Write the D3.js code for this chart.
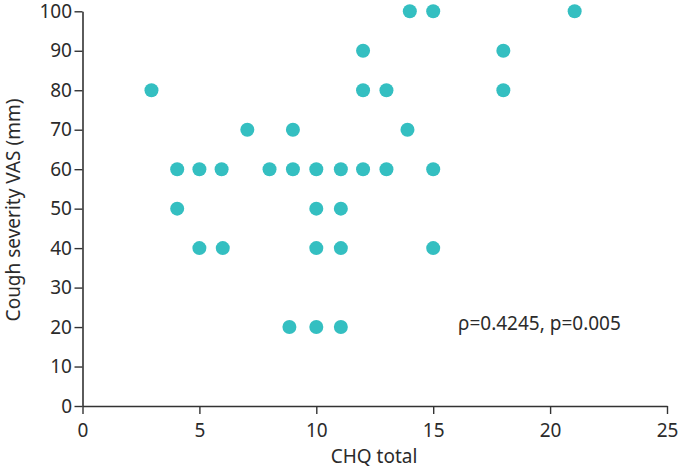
<!DOCTYPE html>
<html>
<head>
<meta charset="utf-8">
<script src="https://cdn.jsdelivr.net/npm/d3@7"></script>
<style>
  html, body { margin: 0; padding: 0; background: #fff; }
  svg text { font-family: "Noto Sans", "Open Sans", sans-serif; fill: #2b2b2b; }
</style>
</head>
<body>
<svg id="chart" width="686" height="470"></svg>
<script>
// CHQ total (x) and Cough severity VAS in mm (y)
const chqTotal = [14, 15, 21.05, 12, 18, 2.95, 12, 13, 18, 7.05, 9, 13.9,
                  4.05, 5, 5.95, 8, 9, 10, 11.05, 12, 13, 15,
                  4.05, 10, 11.05, 5, 6, 10, 11.05, 15, 8.85, 10, 11.05];
const coughVAS = [100, 100, 100, 90, 90, 80, 80, 80, 80, 70, 70, 70,
                  60, 60, 60, 60, 60, 60, 60, 60, 60, 60,
                  50, 50, 50, 40, 40, 40, 40, 40, 20, 20, 20];
const xTicks = [0, 5, 10, 15, 20, 25];
const yTicks = [0, 10, 20, 30, 40, 50, 60, 70, 80, 90, 100];
const xLabel = "CHQ total";
const yLabel = "Cough severity VAS (mm)";
const annotation = "\u03c1=0.4245, p=0.005";

const svg = d3.select("#chart");
const m = { left: 82.5, right: 686 - 667, top: 11.3, bottom: 470 - 406 };
const W = 686, H = 470;
const x = d3.scaleLinear().domain([0, 25]).range([m.left, W - m.right]);
const y = d3.scaleLinear().domain([0, 100]).range([H - m.bottom, m.top]);

const axisColor = "#333";
const fs = 19;

const gx = svg.append("g").attr("transform", `translate(0,${y(0)})`)
  .call(d3.axisBottom(x).tickValues(xTicks).tickFormat(d3.format("d")).tickSize(8).tickSizeOuter(0).tickPadding(9.5));
const gy = svg.append("g").attr("transform", `translate(${x(0)},0)`)
  .call(d3.axisLeft(y).tickValues(yTicks).tickFormat(d3.format("d")).tickSize(8).tickSizeOuter(0).tickPadding(2.5));
[gx, gy].forEach(g => {
  g.select(".domain").attr("stroke", axisColor).attr("stroke-width", 1.6);
  g.selectAll(".tick line").attr("stroke", axisColor).attr("stroke-width", 1.4);
  g.selectAll(".tick text").style("font-size", fs + "px").style("font-family", '"Noto Sans", sans-serif').attr("fill", "#2b2b2b");
});

const data = chqTotal.map((v, i) => ({ x: v, y: coughVAS[i] }));
svg.append("g").selectAll("circle").data(data).join("circle")
  .attr("cx", d => x(d.x)).attr("cy", d => y(d.y)).attr("r", 7)
  .attr("fill", "#34bfc1");

svg.append("text").attr("x", 374).attr("y", 463)
  .attr("text-anchor", "middle").style("font-size", fs + "px").text(xLabel);
svg.append("text").attr("transform", `translate(19.5,210) rotate(-90)`)
  .attr("text-anchor", "middle").style("font-size", fs + "px").text(yLabel);
svg.append("text").attr("x", 458).attr("y", 330)
  .style("font-size", fs + "px").text(annotation);
</script>
</body>
</html>
